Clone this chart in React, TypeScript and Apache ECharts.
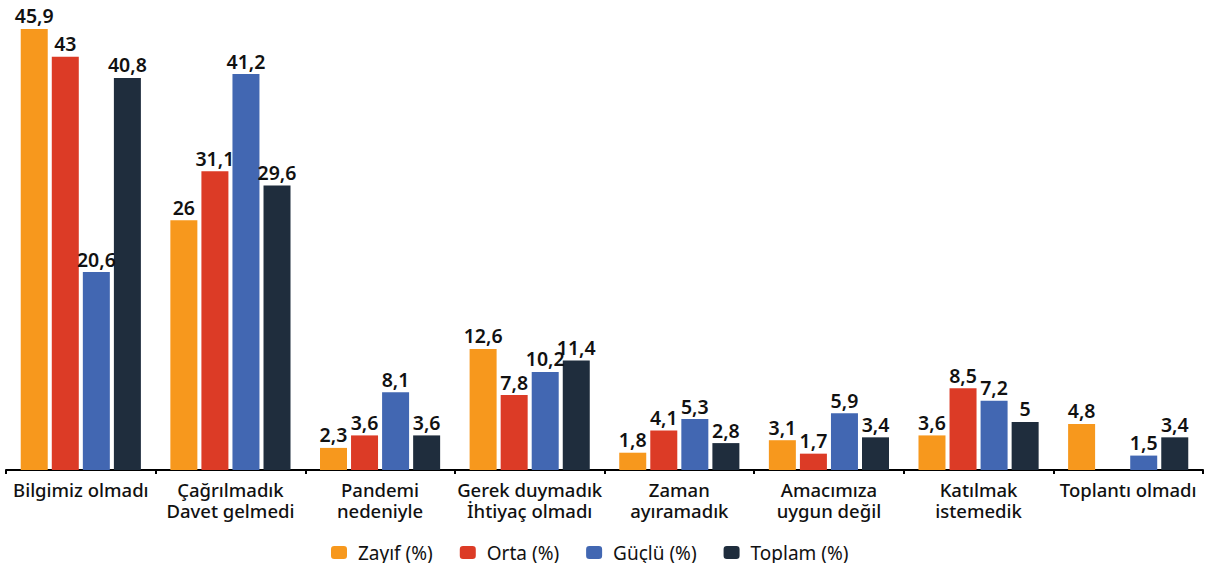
import React, { useEffect, useRef } from "react";
import * as echarts from "echarts";

const categories = [
  "Bilgimiz olmadı",
  "Çağrılmadık\nDavet gelmedi",
  "Pandemi\nnedeniyle",
  "Gerek duymadık\nİhtiyaç olmadı",
  "Zaman\nayıramadık",
  "Amacımıza\nuygun değil",
  "Katılmak\nistemedik",
  "Toplantı olmadı",
];
const zayif = [45.9, 26, 2.3, 12.6, 1.8, 3.1, 3.6, 4.8];
const orta = [43, 31.1, 3.6, 7.8, 4.1, 1.7, 8.5, null];
const guclu = [20.6, 41.2, 8.1, 10.2, 5.3, 5.9, 7.2, 1.5];
const toplam = [40.8, 29.6, 3.6, 11.4, 2.8, 3.4, 5, 3.4];

const seriesNames = ["Zayıf (%)", "Orta (%)", "Güçlü (%)", "Toplam (%)"];
const colors = ["#F7981D", "#DC3B26", "#4267B2", "#1F2D3D"];

const FONT = "Noto Sans";

export default function App() {
  const ref = useRef<HTMLDivElement>(null);
  useEffect(() => {
    if (!ref.current) return;
    const chart = echarts.init(ref.current, undefined, { renderer: "svg" });
    const data = [zayif, orta, guclu, toplam];
    chart.setOption({
      animation: false,
      grid: { left: 6, right: 3, top: 28, bottom: 93, containLabel: false },
      legend: {
        top: 538,
        left: 326,
        itemWidth: 16,
        itemHeight: 13,
        itemGap: 27,
        icon: "roundRect",
        formatter: (n: string) => "{s|}" + n,
        textStyle: {
          fontFamily: FONT,
          fontSize: 19,
          color: "#111",
          rich: { s: { width: 6 } },
        },
        data: seriesNames,
      },
      xAxis: {
        type: "category",
        data: categories,
        axisLine: { lineStyle: { color: "#000", width: 2 } },
        axisTick: { show: true, length: 4, lineStyle: { color: "#000", width: 2 } },
        axisLabel: {
          fontFamily: FONT,
          fontSize: 18.5,
          fontWeight: 500,
          color: "#111",
          lineHeight: 21,
          margin: 9,
          interval: 0,
        },
      },
      yAxis: {
        type: "value",
        min: 0,
        max: 46,
        show: false,
        splitLine: { show: false },
      },
      series: seriesNames.map((name, i) => ({
        name,
        type: "bar",
        data: data[i],
        barWidth: 27,
        barGap: "15%",
        itemStyle: { color: colors[i] },
        label: {
          show: true,
          position: "top",
          distance: 3,
          fontFamily: FONT,
          fontSize: 19.5,
          fontWeight: 600,
          color: "#111",
          formatter: (p: any) => String(p.value).replace(".", ","),
        },
      })),
    });
    return () => chart.dispose();
  }, []);
  return (
    <div
      ref={ref}
      style={{ position: "absolute", left: 0, top: 0, width: 1206, height: 563 }}
    />
  );
}
